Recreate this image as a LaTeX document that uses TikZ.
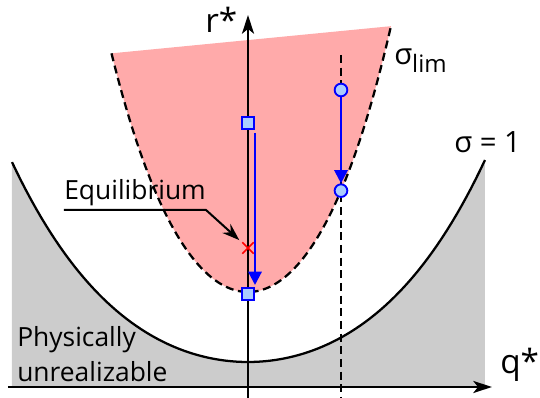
\documentclass[tikz,border=0pt]{standalone}
\usepackage{fontspec}
\setmainfont{Open Sans}
\usetikzlibrary{arrows.meta,shapes.misc}

\definecolor{limpink}{HTML}{FFAAAA}
\definecolor{unrealgrey}{HTML}{CCCCCC}
\definecolor{markfill}{HTML}{AACCFF}

\begin{document}
\begin{tikzpicture}[
    x=75pt, y=75pt,
    declare function={slim(\t)=0.95+1.077*(\t)^2+0.1094*(\t)^4;
                      sone(\t)=0.25+0.2686*(\t)^2+0.01621*(\t)^4;},
    curve/.style={line width=1.7pt},
    limcurve/.style={line width=1.7pt, dash pattern=on 6pt off 3.5pt},
    axis/.style={line width=1.7pt, -{Stealth[length=14pt,width=9pt,inset=3.5pt]}},
    txt/.style={font=\fontsize{19.8}{26.25}\selectfont, inner sep=0pt},
    axtxt/.style={font=\fontsize{25}{30}\selectfont, inner sep=0pt},
    sigtxt/.style={font=\fontsize{22}{26}\selectfont, inner sep=0pt},
    sqmark/.style={rectangle, draw=blue, fill=markfill, line width=1.4pt, minimum size=8.5pt, inner sep=0pt},
    cirmark/.style={circle, draw=blue, fill=markfill, line width=1.4pt, minimum size=9.5pt, inner sep=0pt},
    move/.style={blue, line width=1.7pt, -{Triangle[length=10pt,width=10pt]}},
    pointer/.style={line width=1.5pt, -{Stealth[length=13pt,width=9pt]}}
]
\useasboundingbox (-2.48,-0.11) rectangle (2.92,3.87);

% Regions
\fill[unrealgrey] (-2.36,0) -- plot[domain=-2.36:2.37, samples=100] (\x,{sone(\x)}) -- (2.37,0) -- cycle;
\fill[limpink] plot[domain=-1.365:1.43, samples=100] (\x,{slim(\x)}) -- cycle;

% Curves
\draw[curve] plot[domain=-2.36:2.37, samples=100] (\x,{sone(\x)});
\draw[limcurve] plot[domain=-1.365:1.43, samples=100] (\x,{slim(\x)});

% Axes
\coordinate (qstart) at (-2.40,0);
\coordinate (qend) at (2.44,0);
\coordinate (rstart) at (0,-0.11);
\coordinate (rend) at (0,3.72);
\draw[axis] (qstart) -- (qend);
\draw[axis] (rstart) -- (rend);

% Dashed line
\coordinate (dtop) at (0.93,3.32);
\coordinate (dbot) at (0.93,-0.11);
\draw[limcurve] (dtop) -- (dbot);

% Markers
\node[sqmark] (sqtop) at (0,2.64) {};
\node[sqmark] (sqbot) at (0,0.93) {};
\node[cirmark] (cirtop) at (0.93,2.97) {};
\node[cirmark] (cirbot) at (0.93,{slim(0.93)}) {};
\node[cross out, draw=red, line width=1.1pt, minimum size=7.5pt, inner sep=0pt] (eqx) at (0,1.39) {};

% Moves
\coordinate (sqstart) at (0.07,2.54);
\coordinate (sqend) at (0.07,1.02);
\draw[move] (sqstart) -- (sqend);
\draw[move] (cirtop) -- (cirbot);

% Labels
\node[axtxt, anchor=base west] (rlabel) at (-0.43,3.54) {r*};
\node[axtxt, anchor=base west] (qlabel) at (2.52,0.13) {q*};
\node[sigtxt, anchor=base west] (sonelabel) at (2.06,2.34) {σ = 1};
\node[sigtxt, anchor=base west] (slimlabel) at (1.46,3.22) {σ{\fontsize{18}{20}\selectfont\raisebox{-6pt}{lim}}};
\node[txt, align=left, anchor=south west] (unreal) at (-2.31,0.05) {Physically\\unrealizable};
\node[txt, inner ysep=3pt, anchor=south west] (eqlabel) at (-1.84,1.77) {Equilibrium};
\draw[pointer, shorten >=3pt] (eqlabel.south west) -- (eqlabel.south east) -- (eqx);

\end{tikzpicture}
\end{document}
